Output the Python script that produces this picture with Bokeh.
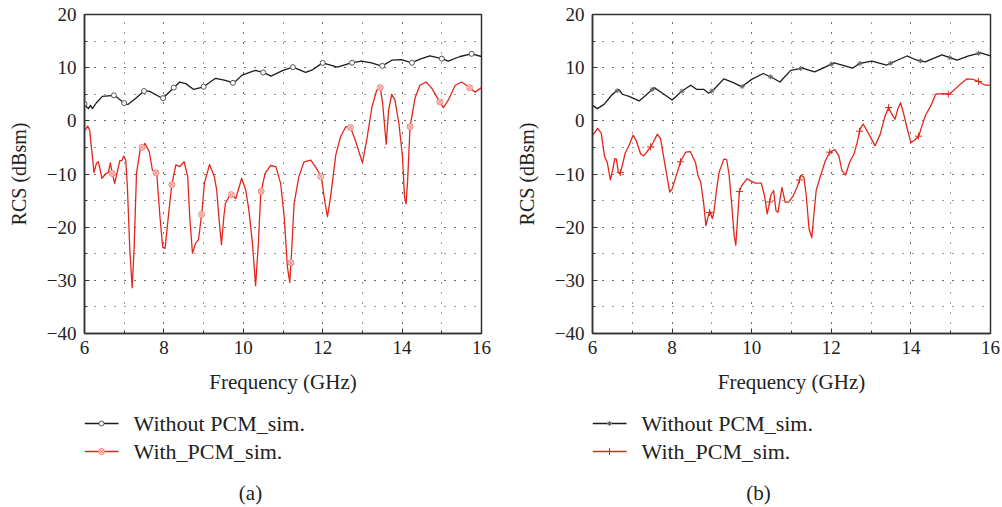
import numpy as np
from bokeh.plotting import figure
from bokeh.layouts import row, column
from bokeh.models import Range1d, SingleIntervalTicker, CustomJSTickFormatter
from bokeh.core.properties import value
from bokeh.embed import file_html
from bokeh.resources import INLINE

# ---------------- data: panel (a) ----------------
a_black_f = [6.0, 6.05, 6.1, 6.15, 6.2, 6.3, 6.45, 6.75, 7.04, 7.1, 7.3, 7.5, 7.63, 7.97, 8.2,
             8.4, 8.55, 8.75, 9.0, 9.3, 9.55, 9.76, 9.97, 10.3, 10.5, 10.7, 11.0, 11.25, 11.57,
             11.74, 12.0, 12.37, 12.72, 12.98, 13.23, 13.49, 13.74, 13.99, 14.24, 14.45, 14.7,
             15.0, 15.16, 15.46, 15.75, 16.0]
a_black_v = [3.2, 2.6, 2.3, 2.9, 2.3, 3.4, 4.6, 4.8, 3.1, 3.1, 4.3, 5.6, 5.6, 4.2, 5.9,
             7.3, 7.0, 5.9, 6.4, 8.0, 7.6, 7.1, 8.6, 9.5, 9.1, 8.4, 9.5, 10.1, 9.1,
             9.6, 10.9, 10.1, 10.9, 11.25, 10.9, 10.3, 11.4, 11.5, 10.9, 11.6, 12.2,
             11.7, 11.25, 12.1, 12.6, 12.1]

a_red_f = [6.0, 6.08, 6.13, 6.24, 6.3, 6.35, 6.44, 6.54, 6.6, 6.65, 6.7, 6.76, 6.89, 6.94, 6.99,
           7.04, 7.08, 7.14, 7.2, 7.25, 7.31, 7.4, 7.52, 7.63, 7.71, 7.82, 7.9, 7.97, 8.03,
           8.12, 8.2, 8.3, 8.4, 8.51, 8.6, 8.65, 8.72, 8.8, 8.87, 8.96, 9.02, 9.15, 9.27,
           9.33, 9.39, 9.45, 9.51, 9.55, 9.68, 9.81, 9.96, 10.06, 10.14, 10.23, 10.31, 10.38,
           10.44, 10.55, 10.69, 10.82, 10.94, 11.03, 11.11, 11.17, 11.22, 11.28, 11.4, 11.53,
           11.7, 11.87, 11.97, 12.06, 12.12, 12.2, 12.33, 12.45, 12.58, 12.7, 12.82, 13.0,
           13.11, 13.24, 13.36, 13.45, 13.51, 13.6, 13.66, 13.74, 13.82, 13.92, 14.01, 14.06,
           14.1, 14.14, 14.2, 14.33, 14.45, 14.6, 14.75, 14.92, 15.04, 15.17, 15.34, 15.5,
           15.67, 15.84, 16.0]
a_red_v = [-1.9, -1.0, -1.75, -9.75, -8.0, -7.7, -10.8, -9.9, -9.75, -7.9, -9.9, -11.75, -7.5,
           -7.5, -6.6, -7.4, -12.4, -24.0, -31.4, -24.0, -9.9, -5.5, -4.25, -5.8, -9.25, -9.9,
           -18.0, -23.75, -24.0, -17.4, -12.0, -8.3, -8.6, -7.7, -10.5, -18.0, -24.9, -23.0,
           -22.4, -17.0, -11.75, -8.2, -10.5, -13.0, -18.6, -23.3, -18.0, -15.5, -13.75,
           -14.6, -10.8, -13.0, -16.75, -23.0, -31.0, -23.0, -13.6, -9.9, -8.4, -8.6, -11.75,
           -18.0, -27.4, -30.4, -24.25, -15.5, -10.5, -7.7, -7.4, -9.25, -10.8, -15.5, -18.0,
           -14.25, -6.4, -3.0, -1.1, -1.25, -3.6, -7.9, -3.6, 2.6, 5.75, 6.25, 3.25, -4.4,
           2.0, 5.0, 3.9, -0.5, -6.75, -14.25, -15.6, -11.1, -1.1, 4.4, 6.7, 7.3, 6.1, 3.9,
           2.5, 4.0, 6.7, 7.3, 6.4, 5.4, 6.25]

a_black_mk = [6.0, 6.74, 7.0, 7.5, 7.98, 8.25, 9.0, 9.74, 10.5, 11.25, 12.0, 12.74, 13.5,
              14.25, 15.0, 15.75]
a_red_mk = [6.7, 7.45, 7.8, 8.2, 8.95, 9.7, 10.45, 11.2, 11.95, 12.7, 13.45, 14.2, 14.95, 15.7]

# ---------------- data: panel (b) ----------------
b_black_f = [6.0, 6.12, 6.29, 6.5, 6.66, 6.75, 6.92, 7.17, 7.34, 7.55, 7.76, 8.0, 8.25, 8.47,
             8.62, 8.8, 8.92, 9.05, 9.3, 9.54, 9.75, 10.0, 10.29, 10.52, 10.71, 10.98, 11.27,
             11.58, 11.82, 12.07, 12.32, 12.53, 12.72, 13.02, 13.39, 13.9, 14.15, 14.36,
             14.78, 15.16, 15.45, 15.75, 16.0]
b_black_v = [2.9, 2.3, 3.1, 5.0, 5.9, 5.0, 4.6, 3.75, 4.8, 6.25, 5.2, 3.9, 5.6, 6.7,
             5.9, 5.9, 5.2, 5.9, 7.9, 7.2, 6.4, 7.8, 8.9, 8.1, 7.3, 9.5, 9.9,
             9.2, 10.0, 10.9, 10.4, 9.9, 10.8, 11.25, 10.5, 12.2, 11.4, 11.1,
             12.4, 11.4, 12.2, 12.8, 12.2]

b_red_f = [6.0, 6.13, 6.22, 6.3, 6.37, 6.45, 6.52, 6.56, 6.6, 6.65, 6.69, 6.75, 6.82, 6.92,
           7.02, 7.1, 7.21, 7.29, 7.42, 7.48, 7.63, 7.71, 7.84, 7.94, 8.0, 8.13, 8.21, 8.34,
           8.46, 8.59, 8.65, 8.72, 8.79, 8.85, 8.9, 8.95, 9.01, 9.05, 9.12, 9.18, 9.3, 9.37,
           9.43, 9.5, 9.56, 9.6, 9.64, 9.69, 9.75, 9.88, 9.96, 10.09, 10.24, 10.32, 10.39,
           10.43, 10.48, 10.55, 10.61, 10.66, 10.76, 10.84, 10.93, 11.05, 11.14, 11.24,
           11.31, 11.37, 11.44, 11.51, 11.56, 11.62, 11.73, 11.85, 11.96, 12.09, 12.19,
           12.27, 12.36, 12.46, 12.57, 12.65, 12.72, 12.8, 12.93, 13.1, 13.23, 13.35, 13.44,
           13.52, 13.6, 13.67, 13.74, 13.81, 13.9, 14.0, 14.1, 14.2, 14.28, 14.37, 14.5,
           14.62, 14.79, 14.96, 15.08, 15.24, 15.41, 15.56, 15.7, 15.87, 16.0]
b_red_v = [-2.8, -1.4, -2.3, -6.6, -7.8, -11.1, -8.75, -7.1, -7.2, -9.7, -10.0, -8.4, -6.1,
           -4.6, -2.7, -3.75, -6.25, -6.6, -5.3, -4.7, -2.5, -3.4, -9.1, -13.4, -12.8, -9.7,
           -7.7, -5.9, -5.8, -7.9, -10.3, -11.6, -15.3, -19.7, -18.1, -17.0, -18.4, -17.2,
           -12.8, -9.7, -7.2, -7.3, -10.0, -15.9, -21.6, -23.4, -19.0, -13.3, -12.2, -10.9,
           -11.25, -11.7, -11.7, -14.0, -17.5, -16.1, -14.0, -13.1, -16.9, -17.2, -12.5,
           -15.3, -15.3, -14.0, -12.5, -10.2, -10.6, -14.0, -20.3, -22.0, -17.8, -13.1,
           -10.3, -7.5, -5.9, -5.4, -6.6, -9.4, -10.2, -7.8, -6.25, -4.1, -1.6, -0.6, -2.3,
           -4.7, -2.5, 0.9, 2.5, 1.25, 0.3, 2.2, 3.4, 1.6, -1.25, -4.1, -3.6, -2.8, -0.9,
           1.1, 2.8, 5.0, 5.1, 5.0, 5.75, 6.9, 7.9, 7.8, 7.4, 6.7, 6.7]

b_black_mk = [6.62, 7.5, 8.25, 9.0, 9.76, 10.47, 11.23, 12.0, 12.72, 13.49, 14.24, 14.98, 15.7]
b_red_mk = [6.7, 7.46, 8.21, 8.94, 9.69, 10.45, 11.2, 11.96, 12.71, 13.44, 14.19, 14.94, 15.7]

x_label = "Frequency (GHz)"
y_label = "RCS (dBsm)"
names = ["Without PCM_sim.", "With_PCM_sim."]
captions = ["(a)", "(b)"]

FONT = "Liberation Serif"
BLACK = "#1c1c1c"
RED = "#e3261c"
GRID = "#3a3a3a"
TXT = "#222222"
PLOT_H = 400
LEG_H = 107


def add_markers(p, xs, ys, kind):
    if kind == "circle":
        p.scatter(xs, ys, marker="circle", size=5, line_color="#555555",
                  fill_color="white", line_width=1)
    elif kind == "asterisk":
        p.scatter(xs, ys, marker="asterisk", size=5, line_color="#666666", line_width=1)
    elif kind == "circle_x":
        p.scatter(xs, ys, marker="circle_x", size=6, line_color="#ee8a82",
                  fill_color="#f8d0cc", line_width=1)
    else:
        p.scatter(xs, ys, marker="cross", size=7, line_color=RED, line_width=1)


def make_plot(width, bl, br, bf, bv, rf, rv, bmk, rmk, bmarker, rmarker):
    p = figure(width=width, height=PLOT_H, x_range=Range1d(6, 16), y_range=Range1d(-40, 20),
               output_backend="svg", toolbar_location=None,
               min_border_left=bl, min_border_right=br, min_border_top=14,
               min_border_bottom=PLOT_H - 333)
    p.background_fill_color = "white"
    p.border_fill_color = "white"
    p.outline_line_color = "#333333"
    p.outline_line_width = 1.5

    xt = SingleIntervalTicker(interval=2, num_minor_ticks=2)
    yt = SingleIntervalTicker(interval=10, num_minor_ticks=2)
    p.xaxis.ticker = xt
    p.yaxis.ticker = yt
    p.xgrid.ticker = xt
    p.ygrid.ticker = yt
    p.yaxis.formatter = CustomJSTickFormatter(
        code="return tick < 0 ? '\\u2212' + Math.abs(tick) : String(tick);")
    for ax in (p.xaxis, p.yaxis):
        ax.major_tick_in = 5
        ax.major_tick_out = 0
        ax.minor_tick_in = 3
        ax.minor_tick_out = 0
        ax.axis_line_color = "#333333"
        ax.axis_line_width = 1.5
        ax.major_tick_line_color = "#333333"
        ax.minor_tick_line_color = "#333333"
        ax.major_label_text_font = FONT
        ax.major_label_text_font_size = "19px"
        ax.major_label_text_color = TXT
        ax.axis_label_text_font = FONT
        ax.axis_label_text_font_style = "normal"
        ax.axis_label_text_color = TXT
    p.xaxis.axis_label_text_font_size = "21px"
    p.yaxis.axis_label_text_font_size = "20px"
    p.xaxis.axis_label = x_label
    p.yaxis.axis_label = y_label
    p.xaxis.major_label_standoff = 7
    p.yaxis.major_label_standoff = 8
    p.xaxis.axis_label_standoff = 13
    p.yaxis.axis_label_standoff = 14

    for g in (p.xgrid, p.ygrid):
        g.grid_line_color = GRID
        g.grid_line_dash = "1 9"
        g.grid_line_width = 1
        g.minor_grid_line_color = GRID
        g.minor_grid_line_dash = "1 9"
        g.minor_grid_line_width = 1

    p.line(bf, bv, line_color=BLACK, line_width=1.3, line_join="round")
    p.line(rf, rv, line_color=RED, line_width=1.3, line_join="round")
    add_markers(p, bmk, np.interp(bmk, bf, bv), bmarker)
    add_markers(p, rmk, np.interp(rmk, rf, rv), rmarker)
    return p


def make_legend(width, bl, br, caption, bmarker, rmarker):
    # The strip's frame is aligned with the plot frame above; use panel-pixel coordinates
    q = figure(width=width, height=LEG_H, x_range=Range1d(bl, width - br),
               y_range=Range1d(LEG_H, 0),
               output_backend="svg", toolbar_location=None,
               min_border_left=bl, min_border_right=br, min_border_top=0, min_border_bottom=0)
    q.axis.visible = False
    q.xgrid.visible = False
    q.ygrid.visible = False
    q.outline_line_color = None
    q.background_fill_color = "white"
    q.border_fill_color = "white"
    rows_y = [23, 51]
    colors = [BLACK, RED]
    kinds = [bmarker, rmarker]
    x0 = bl
    for i in range(2):
        y = rows_y[i]
        q.line([x0, x0 + 34], [y, y], line_color=colors[i], line_width=1.4)
        add_markers(q, [x0 + 17], [y], kinds[i])
        q.text([x0 + 49], [y], text=[names[i]], text_font=value(FONT),
               text_font_size="22px", text_color=TXT, text_baseline="middle",
               text_align="left")
    q.text([bl + 166], [92], text=[caption], text_font=value(FONT), text_font_size="21px",
           text_color=TXT, text_baseline="middle", text_align="center")
    return q


pa = make_plot(500, 84, 19, a_black_f, a_black_v, a_red_f, a_red_v,
               a_black_mk, a_red_mk, "circle", "circle_x")
pb = make_plot(502, 92, 12, b_black_f, b_black_v, b_red_f, b_red_v,
               b_black_mk, b_red_mk, "asterisk", "cross")
la = make_legend(500, 84, 19, captions[0], "circle", "circle_x")
lb = make_legend(502, 92, 12, captions[1], "asterisk", "cross")

layout = row(column(pa, la), column(pb, lb))
open("out.html", "w").write(file_html(layout, INLINE))
